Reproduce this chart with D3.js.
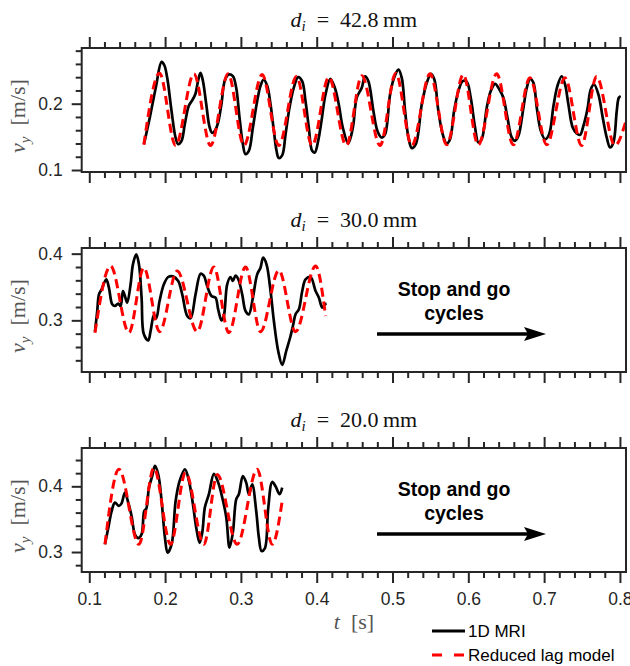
<!DOCTYPE html>
<html>
<head>
<meta charset="utf-8">
<script src="https://cdn.jsdelivr.net/npm/d3@7"></script>
<style>
    body { margin: 0; background: #fff; }
    svg { display: block; }
</style>
</head>
<body>
<svg id="chart" width="630" height="666"></svg>
<script>
// --- data: [t in s, v_y in m/s] ---
const mri428 = [[0.1721,0.139],[0.1800,0.180],[0.1880,0.226],[0.1953,0.263],[0.1990,0.258],[0.2028,0.239],[0.2085,0.189],[0.2138,0.149],[0.2173,0.139],[0.2217,0.144],[0.2260,0.169],[0.2313,0.197],[0.2357,0.205],[0.2401,0.215],[0.2436,0.235],[0.2467,0.2465],[0.2498,0.235],[0.2542,0.200],[0.2586,0.165],[0.2620,0.156],[0.2656,0.159],[0.2700,0.172],[0.2744,0.200],[0.2788,0.235],[0.2841,0.244],[0.2894,0.2415],[0.2938,0.224],[0.2982,0.179],[0.3026,0.139],[0.3060,0.124],[0.3105,0.129],[0.3158,0.164],[0.3215,0.204],[0.3259,0.227],[0.3300,0.2364],[0.3347,0.227],[0.3391,0.199],[0.3435,0.159],[0.3470,0.129],[0.3500,0.118],[0.3545,0.122],[0.3589,0.154],[0.3642,0.1945],[0.3699,0.2245],[0.3755,0.240],[0.3808,0.234],[0.3852,0.204],[0.3896,0.164],[0.3940,0.129],[0.3975,0.1265],[0.4019,0.144],[0.4063,0.174],[0.4116,0.214],[0.4180,0.2375],[0.4239,0.224],[0.4291,0.199],[0.4344,0.164],[0.4415,0.1405],[0.4450,0.150],[0.4484,0.169],[0.4528,0.209],[0.4594,0.224],[0.4638,0.2414],[0.4682,0.234],[0.4748,0.189],[0.4801,0.159],[0.4858,0.149],[0.4902,0.154],[0.4968,0.214],[0.5021,0.239],[0.5078,0.2514],[0.5122,0.239],[0.5166,0.189],[0.5210,0.149],[0.5254,0.133],[0.5307,0.139],[0.5386,0.199],[0.5452,0.2315],[0.5508,0.245],[0.5552,0.2365],[0.5605,0.189],[0.5662,0.154],[0.5715,0.140],[0.5759,0.1465],[0.5812,0.189],[0.5869,0.219],[0.5926,0.234],[0.5979,0.233],[0.6032,0.209],[0.6089,0.164],[0.6133,0.1415],[0.6177,0.1465],[0.6243,0.194],[0.6296,0.219],[0.6353,0.230],[0.6410,0.2215],[0.6463,0.209],[0.6516,0.179],[0.6573,0.149],[0.6617,0.144],[0.6661,0.1515],[0.6727,0.194],[0.6771,0.224],[0.6815,0.2375],[0.6859,0.2315],[0.6903,0.194],[0.6956,0.159],[0.7013,0.1465],[0.7066,0.154],[0.7123,0.1965],[0.7175,0.2265],[0.7232,0.2414],[0.7276,0.229],[0.7320,0.199],[0.7377,0.164],[0.7430,0.155],[0.7474,0.153],[0.7518,0.1665],[0.7571,0.1915],[0.7615,0.2215],[0.7659,0.229],[0.7716,0.214],[0.7773,0.179],[0.7826,0.149],[0.7870,0.134],[0.7914,0.1415],[0.7958,0.189],[0.7985,0.209],[0.8010,0.2114]];
const model428 = [[0.1720,0.138],[0.1927,0.246],[0.2138,0.137],[0.2380,0.245],[0.2600,0.137],[0.2832,0.245],[0.3040,0.137],[0.3280,0.244],[0.3500,0.137],[0.3733,0.241],[0.3940,0.137],[0.4160,0.240],[0.4390,0.137],[0.4595,0.242],[0.4836,0.137],[0.5043,0.246],[0.5254,0.137],[0.5495,0.245],[0.5715,0.138],[0.5934,0.244],[0.6130,0.138],[0.6374,0.245],[0.6593,0.138],[0.6813,0.239],[0.7034,0.138],[0.7275,0.239],[0.7495,0.137],[0.7692,0.241],[0.7934,0.137],[0.8079,0.174]];

const mri300 = [[0.1075,0.283],[0.1105,0.314],[0.1128,0.339],[0.1163,0.3465],[0.1224,0.3615],[0.1259,0.349],[0.1303,0.324],[0.1338,0.3215],[0.1382,0.325],[0.1413,0.3215],[0.1444,0.344],[0.1470,0.3365],[0.1500,0.3265],[0.1545,0.354],[0.1576,0.384],[0.1620,0.399],[0.1655,0.384],[0.1690,0.334],[0.1720,0.279],[0.1778,0.270],[0.1809,0.284],[0.1853,0.308],[0.1883,0.303],[0.1927,0.329],[0.1984,0.354],[0.2041,0.365],[0.2103,0.366],[0.2173,0.359],[0.2226,0.339],[0.2292,0.3065],[0.2336,0.303],[0.2402,0.339],[0.2468,0.370],[0.2511,0.367],[0.2555,0.3515],[0.2612,0.3365],[0.2665,0.334],[0.2700,0.3165],[0.2744,0.300],[0.2775,0.3065],[0.2819,0.354],[0.2863,0.365],[0.2894,0.359],[0.2929,0.367],[0.2964,0.362],[0.3017,0.339],[0.3061,0.314],[0.3105,0.309],[0.3158,0.334],[0.3215,0.369],[0.3259,0.379],[0.3294,0.394],[0.3338,0.384],[0.3391,0.344],[0.3435,0.299],[0.3492,0.254],[0.3545,0.233],[0.3598,0.254],[0.3655,0.2765],[0.3686,0.2915],[0.3721,0.309],[0.3765,0.3165],[0.3809,0.344],[0.3853,0.3615],[0.3919,0.365],[0.3985,0.344],[0.4029,0.334],[0.4073,0.319],[0.4108,0.324],[0.4130,0.325]];
const model300 = [[0.1075,0.2815],[0.1281,0.3815],[0.1523,0.2815],[0.1720,0.379],[0.1927,0.283],[0.2160,0.374],[0.2424,0.283],[0.2643,0.380],[0.2841,0.2815],[0.3061,0.380],[0.3259,0.283],[0.3501,0.375],[0.3721,0.283],[0.3985,0.3815],[0.4117,0.3065]];

const mri200 = [[0.1207,0.3117],[0.1251,0.337],[0.1295,0.3624],[0.1338,0.3752],[0.1391,0.3701],[0.1426,0.374],[0.1470,0.3904],[0.1514,0.3752],[0.1558,0.3548],[0.1602,0.327],[0.1646,0.321],[0.1690,0.327],[0.1725,0.3624],[0.1752,0.366],[0.1787,0.398],[0.1831,0.4157],[0.1866,0.431],[0.1910,0.418],[0.1954,0.3777],[0.1998,0.322],[0.2033,0.299],[0.2086,0.3117],[0.2139,0.3777],[0.2191,0.408],[0.2262,0.426],[0.2315,0.408],[0.2367,0.373],[0.2411,0.337],[0.2455,0.314],[0.2490,0.3295],[0.2525,0.368],[0.2578,0.388],[0.2644,0.419],[0.2701,0.4056],[0.2754,0.383],[0.2807,0.353],[0.2850,0.3067],[0.2894,0.3295],[0.2938,0.380],[0.2973,0.388],[0.3026,0.4157],[0.3070,0.4056],[0.3105,0.388],[0.3149,0.403],[0.3202,0.3624],[0.3237,0.322],[0.3272,0.3015],[0.3316,0.3055],[0.3360,0.366],[0.3413,0.4066],[0.3457,0.400],[0.3510,0.388],[0.3545,0.398]];
const model200 = [[0.1207,0.3117],[0.1391,0.426],[0.1655,0.3117],[0.1853,0.428],[0.2072,0.3117],[0.2270,0.421],[0.2512,0.3117],[0.2688,0.418],[0.2951,0.3117],[0.3215,0.426],[0.3413,0.3117],[0.3545,0.3777]];

const diameters = ['42.8', '30.0', '20.0'];
const yDomains = [[0.097, 0.284], [0.2225, 0.4085], [0.2696, 0.4583]];
const yMajorTicks = [[0.1, 0.2], [0.3, 0.4], [0.3, 0.4]];
const xMajorTicks = [0.1, 0.2, 0.3, 0.4, 0.5, 0.6, 0.7, 0.8];
const legendLabels = ['1D MRI', 'Reduced lag model'];
const noteLines = ['Stop and go', 'cycles'];

// --- layout ---
const axisColor = '#262626';
const serif = '"Liberation Serif", "Times New Roman", serif';
const sans = '"Liberation Sans", Arial, sans-serif';
const boxLeft = 81.7, boxRight = 626, boxHeight = 124;
const panelTops = [48, 248, 448];
const majorLen = 11, minorLen = 6;

let svg = d3.select('#chart');
let x = d3.scaleLinear().domain([0.09, 0.808]).range([boxLeft, boxRight]);
let xMinor = d3.range(0.1, 0.8001, 0.02).filter(v => xMajorTicks.every(m => Math.abs(m - v) > 1e-6));

let panels = [
    { mri: mri428, model: model428 },
    { mri: mri300, model: model300, note: true },
    { mri: mri200, model: model200, note: true }
];

function styleAxis(g) {
    g.select('.domain').remove();
    g.selectAll('.tick line').attr('stroke', axisColor).attr('stroke-width', 2);
    g.selectAll('.tick text')
        .attr('fill', axisColor)
        .style('font-family', sans)
        .style('font-size', '17.5px');
}

function drawPanel(p, i) {
    let top = panelTops[i];
    let bottom = top + boxHeight;
    let y = d3.scaleLinear().domain(yDomains[i]).range([bottom, top]);
    let g = svg.append('g');

    // title
    let title = g.append('text')
        .attr('x', (boxLeft + boxRight) / 2)
        .attr('y', top - 21)
        .attr('text-anchor', 'middle')
        .style('font-family', serif)
        .style('font-size', '22px')
        .attr('fill', '#111');
    title.append('tspan').style('font-style', 'italic').text('d');
    title.append('tspan').style('font-style', 'italic').style('font-size', '15px').attr('dy', 4).text('i');
    title.append('tspan').attr('dy', -4).text(`\u2002=\u2002${diameters[i]}\u2009mm`);

    // y label
    let ylab = g.append('text')
        .attr('transform', `translate(25,${top + boxHeight / 2 + 6}) rotate(-90)`)
        .attr('text-anchor', 'middle')
        .style('font-family', serif)
        .style('font-size', '22px')
        .attr('fill', '#555');
    ylab.append('tspan').style('font-style', 'italic').text('v');
    ylab.append('tspan').style('font-style', 'italic').style('font-size', '15px').attr('dy', 5).text('y');
    ylab.append('tspan').attr('dy', -5).text('\u2002[m/s]');

    // ticks: minor + major, top and bottom, left
    let yMinor = d3.range(Math.ceil(yDomains[i][0] / 0.02) * 0.02, yDomains[i][1], 0.02)
        .filter(v => yMajorTicks[i].every(m => Math.abs(m - v) > 1e-6));

    g.append('g').attr('transform', `translate(0,${top})`)
        .call(d3.axisTop(x).tickValues(xMinor).tickSize(minorLen).tickFormat(''))
        .call(styleAxis);
    g.append('g').attr('transform', `translate(0,${top})`)
        .call(d3.axisTop(x).tickValues(xMajorTicks).tickSize(majorLen).tickFormat(''))
        .call(styleAxis);
    g.append('g').attr('transform', `translate(0,${bottom})`)
        .call(d3.axisBottom(x).tickValues(xMinor).tickSize(minorLen).tickFormat(''))
        .call(styleAxis);
    g.append('g').attr('transform', `translate(0,${bottom})`)
        .call(d3.axisBottom(x).tickValues(xMajorTicks).tickSize(majorLen).tickPadding(10)
            .tickFormat(i == 2 ? d3.format('.1f') : ''))
        .call(styleAxis);
    g.append('g').attr('transform', `translate(${boxLeft},0)`)
        .call(d3.axisLeft(y).tickValues(yMinor).tickSize(minorLen).tickFormat(''))
        .call(styleAxis);
    g.append('g').attr('transform', `translate(${boxLeft},0)`)
        .call(d3.axisLeft(y).tickValues(yMajorTicks[i]).tickSize(majorLen - 1).tickPadding(9).tickFormat(d3.format('.1f')))
        .call(styleAxis);

    // curves
    let line = d3.line().x(d => x(d[0])).y(d => y(d[1]));
    g.append('path')
        .datum(p.mri)
        .attr('d', line.curve(d3.curveCatmullRom.alpha(0.5)))
        .attr('fill', 'none')
        .attr('stroke', '#000')
        .attr('stroke-width', 2.7)
        .attr('stroke-linejoin', 'round');
    g.append('path')
        .datum(p.model)
        .attr('d', line.curve(d3.curveMonotoneX))
        .attr('fill', 'none')
        .attr('stroke', '#ff0000')
        .attr('stroke-width', 3)
        .attr('stroke-dasharray', '9,5');

    // box on top
    g.append('rect')
        .attr('x', boxLeft).attr('y', top)
        .attr('width', boxRight - boxLeft).attr('height', boxHeight)
        .attr('fill', 'none').attr('stroke', axisColor).attr('stroke-width', 2);

    if (p.note) {
        g.selectAll('.note')
            .data(noteLines)
            .enter().append('text')
            .attr('x', 454)
            .attr('y', (d, k) => top + 48 + k * 24)
            .attr('text-anchor', 'middle')
            .style('font-family', sans)
            .style('font-weight', 'bold')
            .style('font-size', '19.5px')
            .text(d => d);
        g.append('line')
            .attr('x1', 377).attr('x2', 530)
            .attr('y1', top + 86).attr('y2', top + 86)
            .attr('stroke', '#000').attr('stroke-width', 3.5);
        g.append('path')
            .attr('d', `M546,${top + 86} L524,${top + 79} L528,${top + 86} L524,${top + 93} Z`)
            .attr('fill', '#000');
    }
}

panels.forEach(drawPanel);

// x label
let xlab = svg.append('text')
    .attr('x', 354)
    .attr('y', 629)
    .attr('text-anchor', 'middle')
    .style('font-family', serif)
    .style('font-size', '22px')
    .attr('fill', '#555');
xlab.append('tspan').style('font-style', 'italic').text('t');
xlab.append('tspan').text('\u2002[s]');

// legend
let legend = svg.append('g');
legendLabels.forEach((label, k) => {
    let ly = 631 + k * 24;
    legend.append('line')
        .attr('x1', 432).attr('x2', 465)
        .attr('y1', ly).attr('y2', ly)
        .attr('stroke', k == 0 ? '#000' : '#ff0000')
        .attr('stroke-width', 3)
        .attr('stroke-dasharray', k == 0 ? null : '10,12');
    legend.append('text')
        .attr('x', 468)
        .attr('y', ly + 6)
        .style('font-family', sans)
        .style('font-size', '17px')
        .attr('fill', '#000')
        .text(label);
});
</script>
</body>
</html>
